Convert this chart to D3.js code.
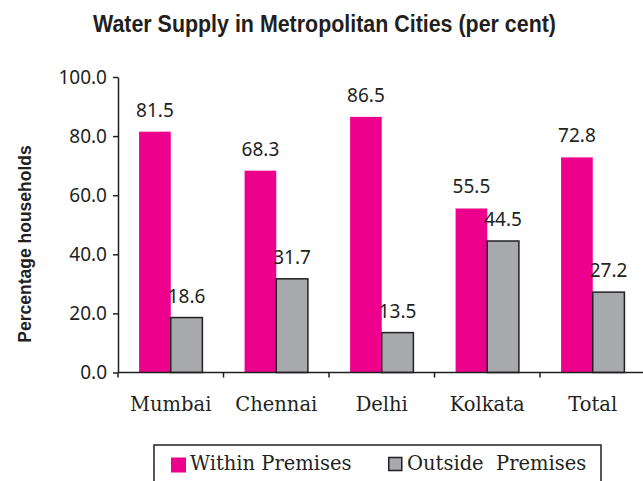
<!DOCTYPE html>
<html>
<head>
<meta charset="utf-8">
<script src="https://cdn.jsdelivr.net/npm/d3@7"></script>
<style>
  html, body { margin: 0; padding: 0; background: #fff; }
  svg { display: block; }
</style>
</head>
<body>
<div id="chart"></div>
<script>
const cities = ['Mumbai', 'Chennai', 'Delhi', 'Kolkata', 'Total']
const withinPremises = [81.5, 68.3, 86.5, 55.5, 72.8]
const outsidePremises = [18.6, 31.7, 13.5, 44.5, 27.2]
const seriesNames = ['Within Premises', 'Outside  Premises']
const yTicks = [0, 20, 40, 60, 80, 100]

const W = 643, H = 481
const ink = '#231f20'
const colors = ['#ec008c', '#a7a9ac']
const serif = '"DejaVu Serif", serif'
const sans = '"Noto Sans", "Open Sans", sans-serif'

const svg = d3.select('#chart').append('svg')
    .attr('width', W)
    .attr('height', H)

// title
svg.append('text')
    .attr('x', 93)
    .attr('y', 32)
    .attr('font-family', '"Liberation Sans Narrow", "Liberation Sans", sans-serif')
    .attr('font-weight', 'bold')
    .attr('font-size', 23)
    .attr('textLength', 463)
    .attr('lengthAdjust', 'spacingAndGlyphs')
    .attr('fill', ink)
    .text('Water Supply in Metropolitan Cities (per cent)')

// scales
const x = d3.scaleBand()
    .domain(cities)
    .range([118, 645.5])
    .paddingInner(0.4)
    .paddingOuter(0.2)

const xs = d3.scaleBand()
    .domain([0, 1])
    .range([0, x.bandwidth()])

const y = d3.scaleLinear()
    .domain([0, 100])
    .range([372.5, 77])

const rows = cities.map((c, i) => ({ city: c, values: [withinPremises[i], outsidePremises[i]] }))

// bars
const groups = svg.selectAll('.city')
    .data(rows).enter()
    .append('g')
    .attr('class', 'city')
    .attr('transform', d => `translate(${x(d.city)},0)`)

groups.selectAll('rect')
    .data(d => d.values.map((v, k) => ({ k, v })))
    .enter()
    .append('rect')
    .attr('x', d => xs(d.k))
    .attr('y', d => y(d.v))
    .attr('width', xs.bandwidth())
    .attr('height', d => y(0) - y(d.v))
    .attr('fill', d => colors[d.k])
    .attr('stroke', d => d.k === 1 ? ink : 'none')
    .attr('stroke-width', 1.5)

groups.selectAll('.val')
    .data(d => d.values.map((v, k) => ({ k, v })))
    .enter()
    .append('text')
    .attr('class', 'val')
    .attr('x', d => xs(d.k) + xs.bandwidth() / 2)
    .attr('y', d => y(d.v) - 15)
    .attr('text-anchor', 'middle')
    .attr('font-family', sans)
    .attr('font-size', 19)
    .attr('fill', ink)
    .text(d => d.v.toFixed(1))

// y axis
const yAxis = svg.append('g')
    .attr('transform', 'translate(118,0)')
    .call(d3.axisLeft(y)
        .tickValues(yTicks)
        .tickSize(5)
        .tickSizeOuter(0)
        .tickPadding(6)
        .tickFormat(d3.format('.1f'))
    )
yAxis.select('.domain').attr('stroke', ink).attr('stroke-width', 1.5)
yAxis.selectAll('.tick line').attr('stroke', ink).attr('stroke-width', 1.5)
yAxis.selectAll('.tick text')
    .attr('font-family', sans)
    .attr('font-size', 19)
    .attr('fill', ink)

// x axis
svg.append('line')
    .attr('x1', 118).attr('x2', 646)
    .attr('y1', y(0)).attr('y2', y(0))
    .attr('stroke', ink)
    .attr('stroke-width', 1.5)

// tick marks on category boundaries
svg.selectAll('.xtick')
    .data(cities)
    .enter()
    .append('line')
    .attr('class', 'xtick')
    .attr('x1', d => x(d) - x.step() * x.paddingOuter())
    .attr('x2', d => x(d) - x.step() * x.paddingOuter())
    .attr('y1', y(0))
    .attr('y2', y(0) + 5)
    .attr('stroke', ink)
    .attr('stroke-width', 1.5)

svg.selectAll('.xlabel')
    .data(cities)
    .enter()
    .append('text')
    .attr('class', 'xlabel')
    .attr('x', d => x(d) + x.bandwidth() / 2)
    .attr('y', 411)
    .attr('text-anchor', 'middle')
    .attr('font-family', serif)
    .attr('font-size', 19.5)
    .attr('fill', ink)
    .text(d => d)

// y title
svg.append('text')
    .attr('transform', 'translate(31,244) rotate(-90)')
    .attr('text-anchor', 'middle')
    .attr('font-family', '"Liberation Sans", Arial, sans-serif')
    .attr('font-weight', 'bold')
    .attr('font-size', 17.5)
    .attr('fill', ink)
    .text('Percentage households')

// legend
const legend = svg.append('g')
legend.append('rect')
    .attr('x', 154).attr('y', 445)
    .attr('width', 447).attr('height', 50)
    .attr('fill', 'none')
    .attr('stroke', ink)
    .attr('stroke-width', 1.5)

const legendX = [171, 388]
seriesNames.forEach((name, k) => {
    legend.append('rect')
        .attr('x', legendX[k] + (k === 1 ? 0.75 : 0))
        .attr('y', 457.5)
        .attr('width', k === 1 ? 13 : 15)
        .attr('height', k === 1 ? 13 : 15)
        .attr('fill', colors[k])
        .attr('stroke', k === 1 ? ink : 'none')
        .attr('stroke-width', 1.5)
    legend.append('text')
        .attr('x', legendX[k] + 19)
        .attr('y', 470)
        .attr('font-family', serif)
        .attr('font-size', 19.5)
        .attr('fill', ink)
        .style('white-space', 'pre')
        .text(name)
})
</script>
</body>
</html>
